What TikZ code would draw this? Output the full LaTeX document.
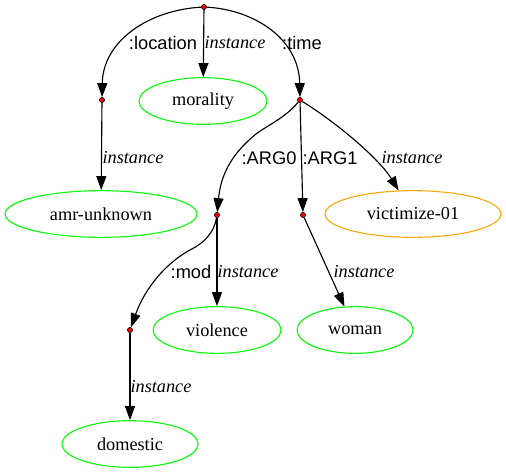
\documentclass[tikz,border=0pt]{standalone}
\usepackage{fontspec}
\setmainfont{Liberation Serif}
\setsansfont{Liberation Sans}
\usetikzlibrary{shapes.geometric,arrows.meta}
\definecolor{gvgreen}{HTML}{00FF00}
\definecolor{gvorange}{HTML}{FFA500}
\begin{document}
\begin{tikzpicture}[x=0.75pt,y=-0.75pt,
  dotnode/.style={circle,draw=black,fill=red,line width=0.5pt,minimum size=3.8pt,inner sep=0pt},
  concept/.style={ellipse,draw=gvgreen,line width=0.8pt,minimum height=35pt,inner sep=0pt,font=\fontsize{13.7}{16}\selectfont},
  eventc/.style={concept,draw=gvorange},
  edge/.style={line width=0.85pt,-{Triangle[length=10.5pt,width=7.5pt]}},
  rel/.style={font=\sffamily\fontsize{13.7}{16}\selectfont,inner sep=0pt},
  inst/.style={font=\itshape\fontsize{13.7}{16}\selectfont,inner sep=0pt}]
\useasboundingbox (0,0) rectangle (506,474);
% nodes
\node[dotnode] (root) at (204,7) {};
\node[dotnode] (loc) at (102,100) {};
\node[dotnode] (tim) at (300,100) {};
\node[dotnode] (ag0) at (217,215) {};
\node[dotnode] (ag1) at (303,215) {};
\node[dotnode] (mod) at (130,330) {};
\node[concept,minimum width=96pt] (morality) at (203,101) {morality};
\node[concept,minimum width=144pt] (amr) at (101,214) {amr-unknown};
\node[eventc,minimum width=132pt] (vict) at (413,214) {victimize-01};
\node[concept,minimum width=96pt] (viol) at (217,330) {violence};
\node[concept,minimum width=87pt] (woman) at (355,330) {woman};
\node[concept,minimum width=102pt] (dom) at (130,444) {domestic};
% edges
\draw[edge] (root) .. controls (150,10) and (103,40) .. (loc);
\draw[edge] (root) -- (morality);
\draw[edge] (root) .. controls (256,10) and (299,40) .. (tim);
\draw[edge] (loc) -- (amr);
\draw[edge] (tim) .. controls (285,118) and (268,125) .. (256,134) .. controls (234,152) and (221,172) .. (ag0);
\draw[edge] (tim) -- (ag1);
\draw[edge] (tim) .. controls (340,125) and (380,160) .. (vict);
\draw[edge] (ag0) .. controls (214,233) and (204,243) .. (190,250) .. controls (166,263) and (145,288) .. (mod);
\draw[edge] (ag0) -- (viol);
\draw[edge] (ag1) -- (woman);
\draw[edge] (mod) -- (dom);
% labels
\node[rel] (l1) at (163,43) {:location};
\node[inst] (l2) at (235,43) {instance};
\node[rel] (l3) at (302,43) {:time};
\node[inst] (l4) at (133,158) {instance};
\node[rel] (l5) at (269,158) {:ARG0};
\node[rel] (l6) at (330,158) {:ARG1};
\node[inst] (l7) at (412,158) {instance};
\node[rel] (l8) at (191,272) {:mod};
\node[inst] (l9) at (248,272) {instance};
\node[inst] (l10) at (364,272) {instance};
\node[inst] (l11) at (161,387) {instance};
\end{tikzpicture}
\end{document}
